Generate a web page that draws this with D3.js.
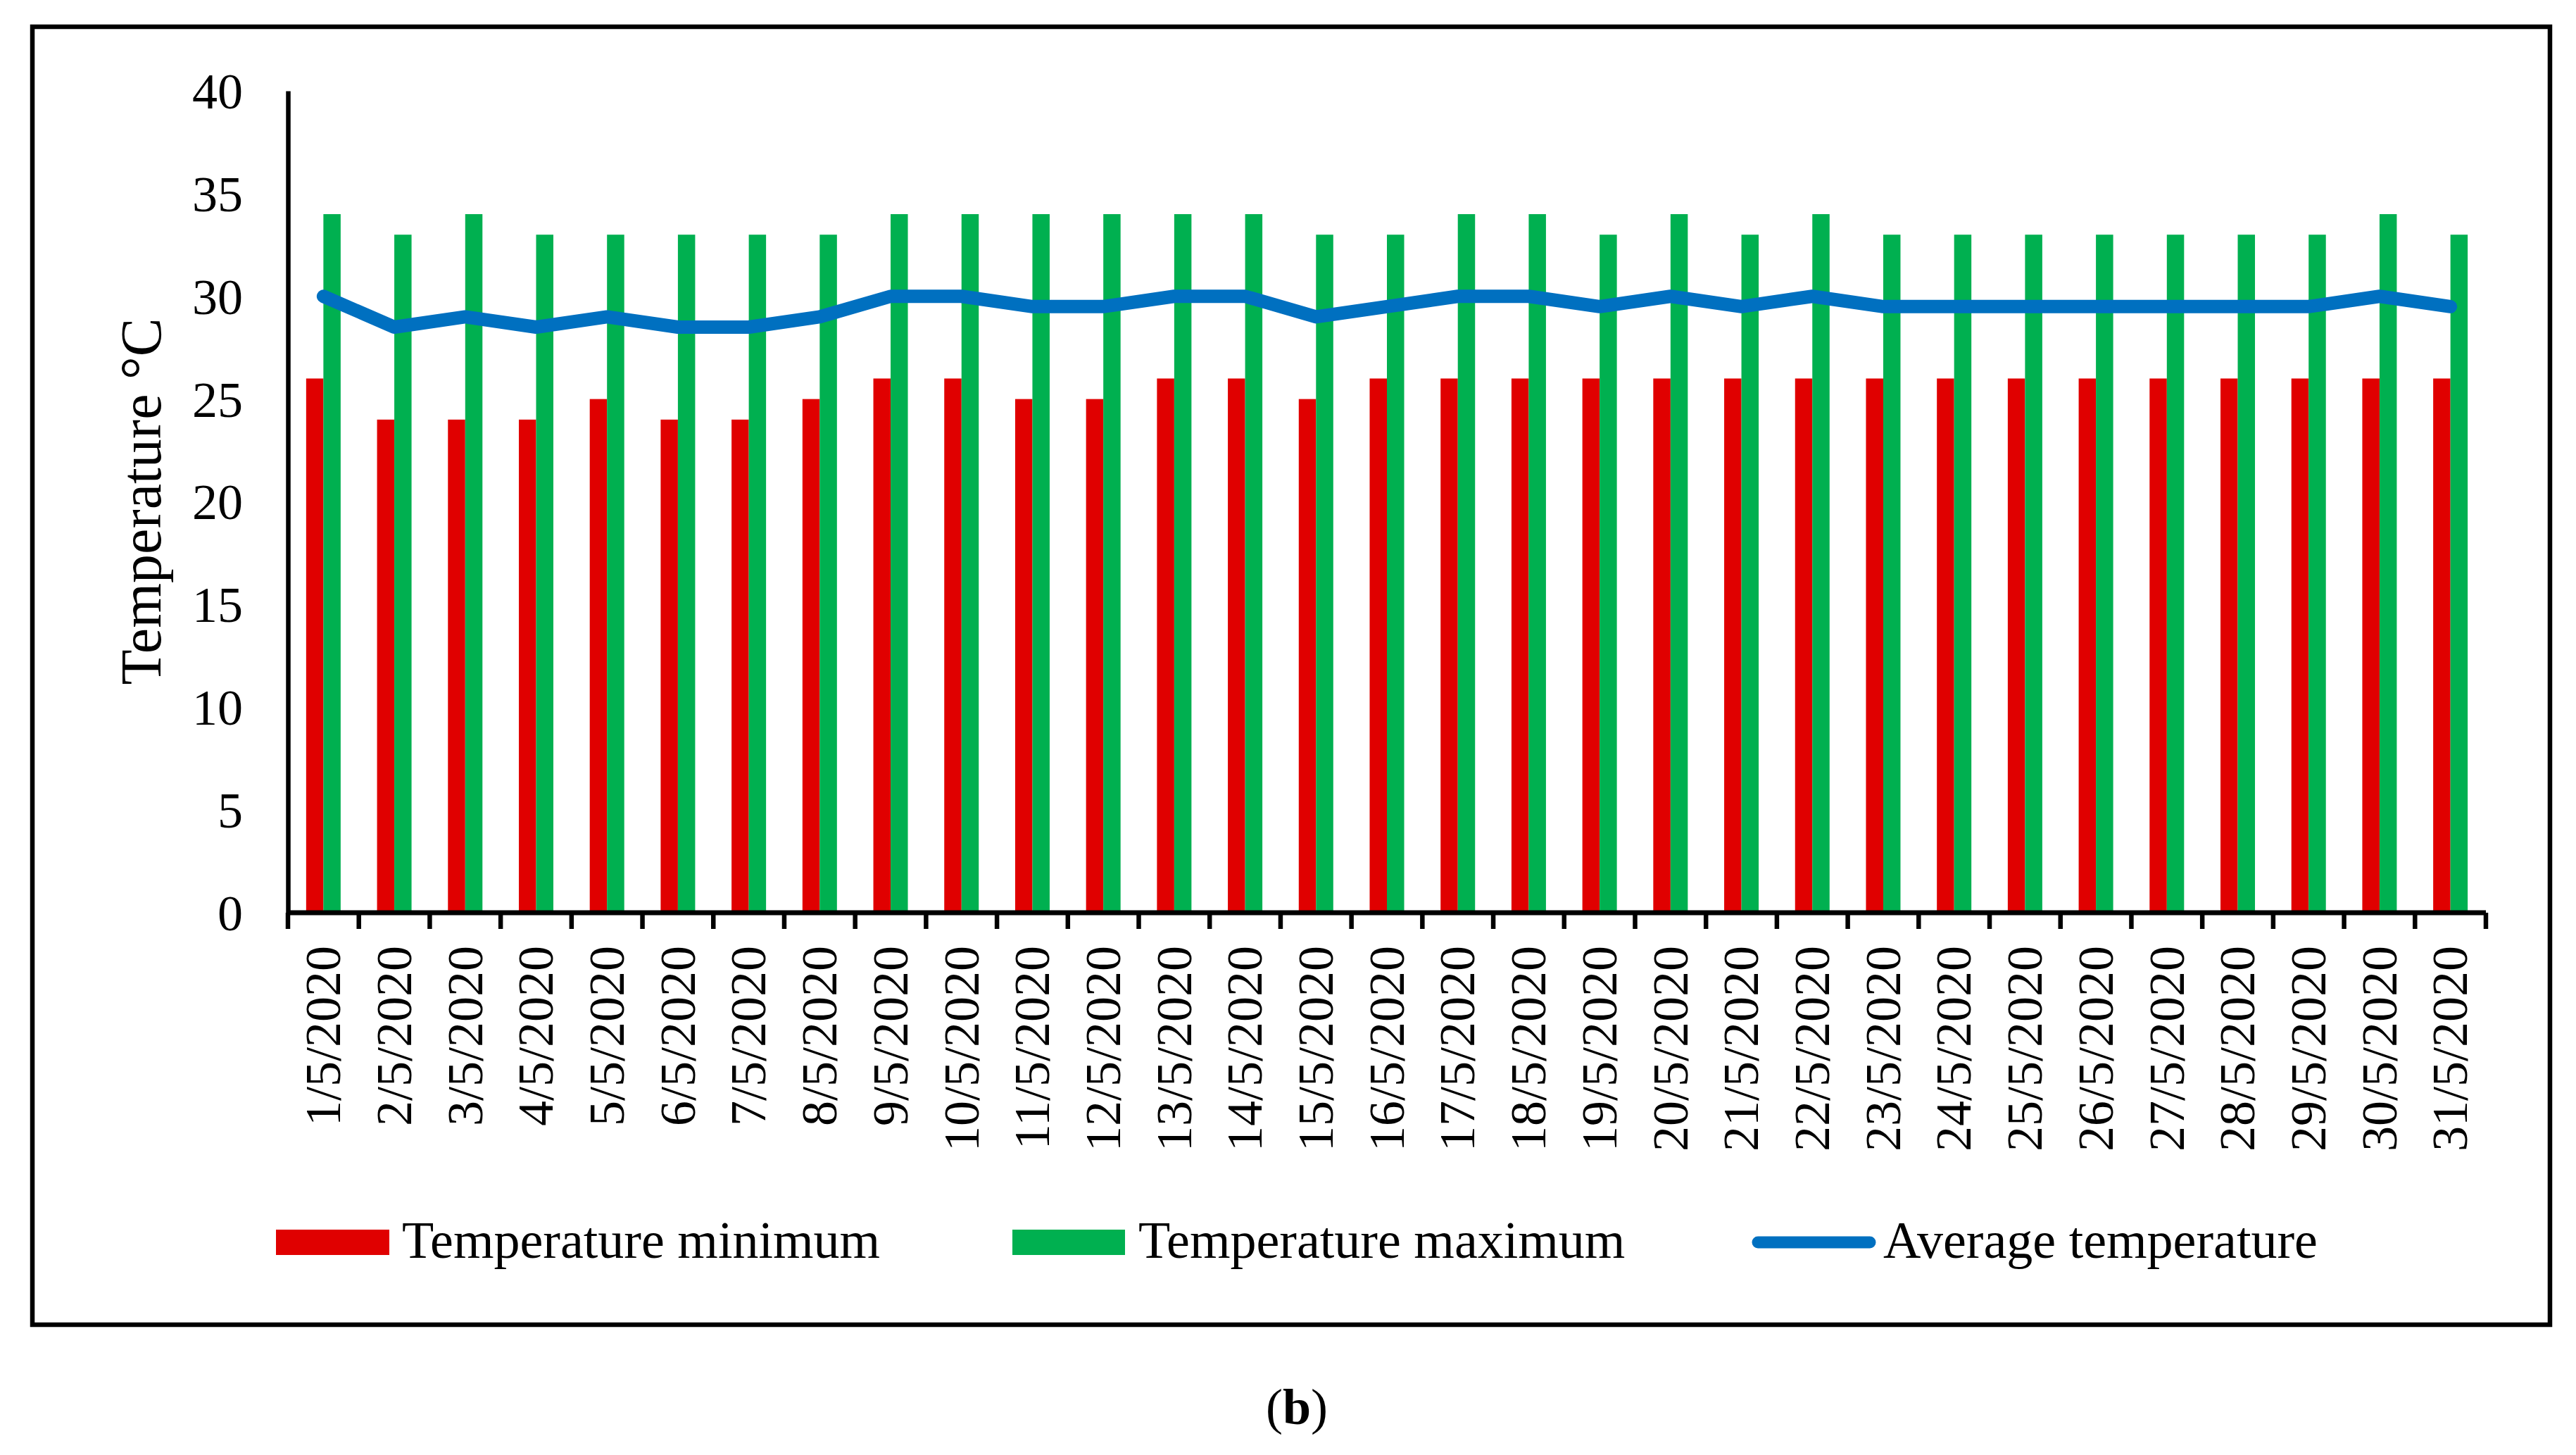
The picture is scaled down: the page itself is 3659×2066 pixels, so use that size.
<!DOCTYPE html>
<html>
  <head>
    <meta charset="utf-8">
    <title>Temperature May 2020</title>
    <script src="https://d3js.org/d3.v7.min.js"></script>
    <style>
      body { margin: 0; background: #fff; }
      text { font-family: "Liberation Serif", "Times New Roman", serif; fill: #000; }
    </style>
  </head>
  <body>
    <script>

      // chart values
      var days = [];
      for (var i = 1; i <= 31; i++) days.push(i + "/5/2020");
      var tempMin = [26, 24, 24, 24, 25, 24, 24, 25, 26, 26, 25, 25, 26, 26, 25, 26,
                     26, 26, 26, 26, 26, 26, 26, 26, 26, 26, 26, 26, 26, 26, 26];
      var tempMax = [34, 33, 34, 33, 33, 33, 33, 33, 34, 34, 34, 34, 34, 34, 33, 33,
                     34, 34, 33, 34, 33, 34, 33, 33, 33, 33, 33, 33, 33, 34, 33];
      var tempAvg = [30, 28.5, 29, 28.5, 29, 28.5, 28.5, 29, 30, 30, 29.5, 29.5, 30, 30, 29, 29.5,
                     30, 30, 29.5, 30, 29.5, 30, 29.5, 29.5, 29.5, 29.5, 29.5, 29.5, 29.5, 30, 29.5];
      var yTicks = [0, 5, 10, 15, 20, 25, 30, 35, 40];
      var seriesNames = ["Temperature minimum", "Temperature maximum", "Average temperature"];

      var red = "#e00000", green = "#00b050", blue = "#0070c0";

      var width = 3659, height = 2066;
      var plotLeft = 409, plotRight = 3531, plotTop = 129, plotBottom = 1296;

      var svg = d3.select("body").append("svg")
        .attr("width", width)
        .attr("height", height);

      svg.append("rect")
        .attr("width", width).attr("height", height)
        .attr("fill", "#fff");

      // outer frame
      svg.append("rect")
        .attr("x", 46).attr("y", 38)
        .attr("width", 3622 - 46).attr("height", 1881 - 38)
        .attr("fill", "none")
        .attr("stroke", "#000")
        .attr("stroke-width", 6.5);

      var xScale = d3.scaleBand().domain(days).range([plotLeft, plotRight]);
      var inner = d3.scaleBand().domain(["min", "max"])
        .range([0, xScale.bandwidth()])
        .paddingOuter(1.055);
      var yScale = d3.scaleLinear().domain([0, 40]).range([plotBottom, plotTop]);

      var rows = days.map(function (d, i){
        return {day: d, min: tempMin[i], max: tempMax[i], avg: tempAvg[i]};
      });

      // bars
      svg.selectAll(".bar-min").data(rows).enter().append("rect")
        .attr("class", "bar-min")
        .attr("x", function (d){ return xScale(d.day) + inner("min"); })
        .attr("width", inner.bandwidth())
        .attr("y", function (d){ return yScale(d.min); })
        .attr("height", function (d){ return yScale(0) - yScale(d.min); })
        .attr("fill", red);

      svg.selectAll(".bar-max").data(rows).enter().append("rect")
        .attr("class", "bar-max")
        .attr("x", function (d){ return xScale(d.day) + inner("max"); })
        .attr("width", inner.bandwidth())
        .attr("y", function (d){ return yScale(d.max); })
        .attr("height", function (d){ return yScale(0) - yScale(d.max); })
        .attr("fill", green);

      // average line
      var line = d3.line()
        .x(function (d){ return xScale(d.day) + xScale.bandwidth() / 2; })
        .y(function (d){ return yScale(d.avg); });

      svg.append("path")
        .datum(rows)
        .attr("d", line)
        .attr("fill", "none")
        .attr("stroke", blue)
        .attr("stroke-width", 19)
        .attr("stroke-linecap", "round")
        .attr("stroke-linejoin", "round");

      // y axis
      var yAxis = d3.axisLeft(yScale)
        .tickValues(yTicks)
        .tickSize(0)
        .tickPadding(64);

      var yG = svg.append("g")
        .attr("transform", "translate(" + plotLeft + ",0)")
        .call(yAxis);
      yG.select(".domain").attr("stroke", "#000").attr("stroke-width", 6.5);
      yG.selectAll("text")
        .attr("font-size", 72)
        .attr("dy", "0.34em")
        .style("font-family", '"Liberation Serif", "Times New Roman", serif');

      // x axis: line, ticks at category boundaries, rotated labels
      var xG = svg.append("g");
      xG.append("line")
        .attr("x1", plotLeft).attr("x2", plotRight)
        .attr("y1", plotBottom).attr("y2", plotBottom)
        .attr("stroke", "#000").attr("stroke-width", 7);

      var bounds = days.map(function (d){ return xScale(d); }).concat([plotRight]);
      xG.selectAll(".tick").data(bounds).enter().append("line")
        .attr("class", "tick")
        .attr("x1", function (d){ return d; }).attr("x2", function (d){ return d; })
        .attr("y1", plotBottom).attr("y2", plotBottom + 23)
        .attr("stroke", "#000").attr("stroke-width", 6.5);

      xG.selectAll(".xlabel").data(days).enter().append("text")
        .attr("class", "xlabel")
        .attr("transform", function (d){
          return "translate(" + (xScale(d) + xScale.bandwidth() / 2) + "," + 1343 + ") rotate(-90)";
        })
        .attr("text-anchor", "end")
        .attr("dy", "0.33em")
        .attr("font-size", 72)
        .text(function (d){ return d; });

      // y axis title
      svg.append("text")
        .attr("transform", "translate(228,712) rotate(-90)")
        .attr("text-anchor", "middle")
        .attr("font-size", 82)
        .text("Temperature °C");

      // legend
      var legend = svg.append("g");
      legend.append("rect")
        .attr("x", 392).attr("y", 1746).attr("width", 161).attr("height", 36)
        .attr("fill", red);
      legend.append("text")
        .attr("x", 571).attr("y", 1786).attr("font-size", 74)
        .text(seriesNames[0]);

      legend.append("rect")
        .attr("x", 1438).attr("y", 1746).attr("width", 160).attr("height", 36)
        .attr("fill", green);
      legend.append("text")
        .attr("x", 1617).attr("y", 1786).attr("font-size", 74)
        .text(seriesNames[1]);

      legend.append("line")
        .attr("x1", 2497).attr("x2", 2656)
        .attr("y1", 1764).attr("y2", 1764)
        .attr("stroke", blue).attr("stroke-width", 17)
        .attr("stroke-linecap", "round");
      legend.append("text")
        .attr("x", 2675).attr("y", 1786).attr("font-size", 74)
        .text(seriesNames[2]);

      // panel label
      var cap = svg.append("text")
        .attr("x", 1842).attr("y", 2022)
        .attr("text-anchor", "middle")
        .attr("font-size", 72);
      cap.append("tspan").text("(");
      cap.append("tspan").attr("font-weight", "bold").text("b");
      cap.append("tspan").text(")");

    </script>
  </body>
</html>
